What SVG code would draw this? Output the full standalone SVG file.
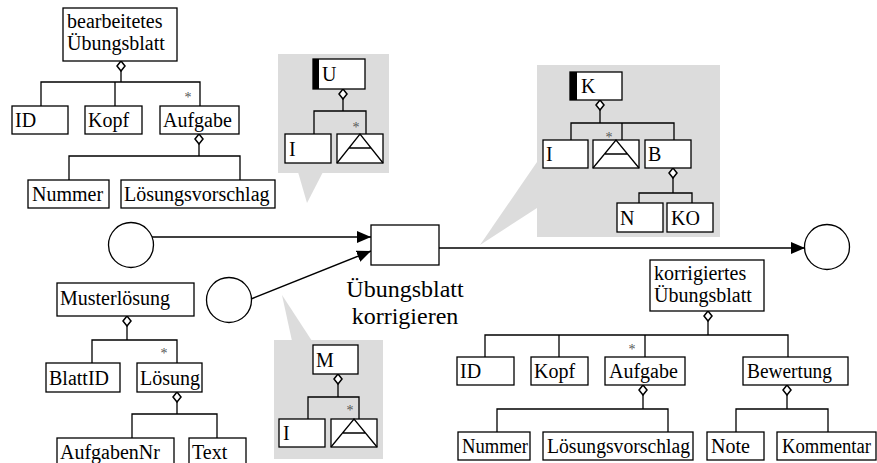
<svg xmlns="http://www.w3.org/2000/svg" width="877" height="463" viewBox="0 0 877 463">
  <defs>
    <style>
      .box { fill: #fff; stroke: #000; stroke-width: 1.3; }
      .bar { fill: #000; }
      text { font-family: "Liberation Serif", "Times New Roman", Times, "DejaVu Serif", serif; }
      .lbl { font-size: 20px; fill: #000; }
      .big { font-size: 24px; fill: #000; text-anchor: middle; }
      .mult { font-size: 14px; fill: #555; text-anchor: middle; }
      .tree { fill: none; stroke: #000; stroke-width: 1.3; }
      .dia { fill: #fff; stroke: #000; stroke-width: 1.5; }
      .flow { fill: none; stroke: #000; stroke-width: 1.5; }
      .place { fill: #fff; stroke: #000; stroke-width: 1.3; }
      .callout { fill: #dcdcdc; stroke: none; }
      .tri { fill: none; stroke: #000; stroke-width: 1.3; }
    </style>
    <marker id="arrow" markerUnits="userSpaceOnUse" markerWidth="15" markerHeight="12" refX="14" refY="6" orient="auto">
      <path d="M0,0 L14,6 L0,12 z" fill="#000"/>
    </marker>
    <path id="diamond" d="M0,0 l4,5 l-4,5 l-4,-5 z"/>
  </defs>

  <!-- speech-bubble backgrounds -->
  <g id="callouts">
    <rect class="callout" x="278" y="54" width="111" height="119"/>
    <polygon class="callout" points="298,172 323,172 307,203"/>
    <rect class="callout" x="537" y="65" width="183" height="172"/>
    <polygon class="callout" points="480,245 537,162 537,208"/>
    <rect class="callout" x="274" y="340" width="109" height="119"/>
    <polygon class="callout" points="282,295 292,341 312,341"/>
  </g>

  <!-- all connecting lines -->
  <g id="connectors">
    <!-- bearbeitetes Übungsblatt tree -->
    <path class="tree" d="M121,71 V82 M41,106 V82 H200 V106 M115,82 V106"/>
    <path class="tree" d="M199,144 V156 M69,180 V156 H240 V180"/>
    <!-- U tree -->
    <path class="tree" d="M343,99 V111 M314,134 V111 H366 V134"/>
    <!-- K tree -->
    <path class="tree" d="M600,110 V123 M571,140 V123 H674 V140 M622,123 V140"/>
    <path class="tree" d="M673,178 V193 M639,203 V193 H692 V203"/>
    <!-- Musterlösung tree -->
    <path class="tree" d="M127,326 V340 M92,363 V340 H177 V363"/>
    <path class="tree" d="M177,402 V414 M132,438 V414 H217 V438"/>
    <!-- M tree -->
    <path class="tree" d="M338,384 V397 M308,419 V397 H359 V419"/>
    <!-- korrigiertes Übungsblatt tree -->
    <path class="tree" d="M708,321 V335 M485,357 V335 H788 V357 M559,335 V357 M645,335 V357"/>
    <path class="tree" d="M643,395 V409 M497,432 V409 H668 V432"/>
    <path class="tree" d="M787,395 V409 M736,432 V409 H828 V432"/>
    <!-- aggregation diamonds -->
    <use href="#diamond" class="dia" x="121" y="61"/>
    <use href="#diamond" class="dia" x="199" y="134"/>
    <use href="#diamond" class="dia" x="343" y="89"/>
    <use href="#diamond" class="dia" x="600" y="100"/>
    <use href="#diamond" class="dia" x="673" y="168"/>
    <use href="#diamond" class="dia" x="127" y="316"/>
    <use href="#diamond" class="dia" x="177" y="392"/>
    <use href="#diamond" class="dia" x="338" y="374"/>
    <use href="#diamond" class="dia" x="708" y="311"/>
    <use href="#diamond" class="dia" x="643" y="385"/>
    <use href="#diamond" class="dia" x="787" y="385"/>
    <!-- multiplicities -->
    <text class="mult" x="188" y="102">*</text>
    <text class="mult" x="356" y="132">*</text>
    <text class="mult" x="609" y="142">*</text>
    <text class="mult" x="164" y="358">*</text>
    <text class="mult" x="350" y="415">*</text>
    <text class="mult" x="632" y="354">*</text>
    <!-- process flow -->
    <line class="flow" x1="152" y1="237" x2="371" y2="237" marker-end="url(#arrow)"/>
    <line class="flow" x1="251" y1="299" x2="371" y2="251" marker-end="url(#arrow)"/>
    <line class="flow" x1="439" y1="248" x2="805" y2="248" marker-end="url(#arrow)"/>
  </g>

  <!-- process -->
  <g id="process">
    <rect class="box" x="371" y="225" width="68" height="40"/>
    <text class="big" x="405" y="297">Übungsblatt</text>
    <text class="big" x="405" y="324">korrigieren</text>
  </g>
  <g id="place-in1"><circle class="place" cx="131" cy="245" r="22.5"/></g>
  <g id="place-in2"><circle class="place" cx="229" cy="300" r="22.5"/></g>
  <g id="place-out"><circle class="place" cx="827" cy="247" r="22.5"/></g>

  <!-- bearbeitetes Übungsblatt -->
  <g id="bearbeitetes-uebungsblatt">
    <rect class="box" x="63" y="8" width="114" height="53"/>
    <text class="lbl" x="67" y="28">bearbeitetes</text>
    <text class="lbl" x="67" y="50">Übungsblatt</text>
  </g>
  <g id="b-id"><rect class="box" x="12" y="106" width="56" height="28"/><text class="lbl" x="15" y="127">ID</text></g>
  <g id="b-kopf"><rect class="box" x="85" y="106" width="57" height="28"/><text class="lbl" x="88" y="127">Kopf</text></g>
  <g id="b-aufgabe"><rect class="box" x="160" y="106" width="79" height="28"/><text class="lbl" x="163" y="127">Aufgabe</text></g>
  <g id="b-nummer"><rect class="box" x="28" y="180" width="81" height="28"/><text class="lbl" x="32" y="201">Nummer</text></g>
  <g id="b-loesungsvorschlag"><rect class="box" x="121" y="180" width="154" height="28"/><text class="lbl" x="124" y="201">Lösungsvorschlag</text></g>

  <!-- U -->
  <g id="u">
    <rect class="box" x="313" y="59" width="52" height="30"/>
    <rect class="bar" x="313" y="59" width="6" height="30"/>
    <text class="lbl" x="322" y="81">U</text>
  </g>
  <g id="u-i"><rect class="box" x="285" y="134" width="46" height="29"/><text class="lbl" x="289" y="156">I</text></g>
  <g id="u-list">
    <rect class="box" x="337" y="134" width="46" height="29"/>
    <path class="tri" d="M337,163 L360,134 L383,163 M349,148 H371"/>
  </g>

  <!-- K -->
  <g id="k">
    <rect class="box" x="570" y="72" width="52" height="28"/>
    <rect class="bar" x="570" y="72" width="7" height="28"/>
    <text class="lbl" x="581" y="93">K</text>
  </g>
  <g id="k-i"><rect class="box" x="543" y="140" width="45" height="28"/><text class="lbl" x="546" y="161">I</text></g>
  <g id="k-list">
    <rect class="box" x="593" y="140" width="46" height="28"/>
    <path class="tri" d="M593,168 L616,140 L639,168 M605,154 H627"/>
  </g>
  <g id="k-b"><rect class="box" x="645" y="140" width="46" height="28"/><text class="lbl" x="648" y="161">B</text></g>
  <g id="k-n"><rect class="box" x="617" y="203" width="46" height="29"/><text class="lbl" x="620" y="225">N</text></g>
  <g id="k-ko"><rect class="box" x="667" y="203" width="46" height="29"/><text class="lbl" x="671" y="225">KO</text></g>

  <!-- Musterlösung -->
  <g id="musterloesung"><rect class="box" x="57" y="283" width="137" height="33"/><text class="lbl" x="60" y="305">Musterlösung</text></g>
  <g id="m-blattid"><rect class="box" x="46" y="363" width="74" height="29"/><text class="lbl" x="49" y="385">BlattID</text></g>
  <g id="m-loesung"><rect class="box" x="137" y="363" width="65" height="29"/><text class="lbl" x="140" y="385">Lösung</text></g>
  <g id="m-aufgabennr"><rect class="box" x="57" y="438" width="117" height="28"/><text class="lbl" x="60" y="459">AufgabenNr</text></g>
  <g id="m-text"><rect class="box" x="189" y="438" width="57" height="28"/><text class="lbl" x="192" y="459">Text</text></g>

  <!-- M -->
  <g id="m">
    <rect class="box" x="313" y="345" width="45" height="29"/>
    <text class="lbl" x="316" y="367">M</text>
  </g>
  <g id="m-i"><rect class="box" x="279" y="419" width="46" height="28"/><text class="lbl" x="283" y="440">I</text></g>
  <g id="m-list">
    <rect class="box" x="331" y="419" width="46" height="28"/>
    <path class="tri" d="M331,447 L354,419 L377,447 M343,433 H365"/>
  </g>

  <!-- korrigiertes Übungsblatt -->
  <g id="korrigiertes-uebungsblatt">
    <rect class="box" x="650" y="260" width="114" height="51"/>
    <text class="lbl" x="654" y="280">korrigiertes</text>
    <text class="lbl" x="654" y="302">Übungsblatt</text>
  </g>
  <g id="k-id2"><rect class="box" x="457" y="357" width="57" height="28"/><text class="lbl" x="460" y="378">ID</text></g>
  <g id="k-kopf"><rect class="box" x="531" y="357" width="57" height="28"/><text class="lbl" x="534" y="378">Kopf</text></g>
  <g id="k-aufgabe"><rect class="box" x="605" y="357" width="80" height="28"/><text class="lbl" x="609" y="378">Aufgabe</text></g>
  <g id="k-bewertung"><rect class="box" x="743" y="357" width="105" height="28"/><text class="lbl" x="747" y="378" textLength="85" lengthAdjust="spacingAndGlyphs">Bewertung</text></g>
  <g id="k-nummer"><rect class="box" x="458" y="432" width="72" height="28"/><text class="lbl" x="462" y="453" textLength="66" lengthAdjust="spacingAndGlyphs">Nummer</text></g>
  <g id="k-loesungsvorschlag"><rect class="box" x="543" y="432" width="150" height="28"/><text class="lbl" x="547" y="453" textLength="143" lengthAdjust="spacingAndGlyphs">Lösungsvorschlag</text></g>
  <g id="k-note"><rect class="box" x="707" y="432" width="57" height="28"/><text class="lbl" x="711" y="453">Note</text></g>
  <g id="k-kommentar"><rect class="box" x="777" y="432" width="99" height="28"/><text class="lbl" x="782" y="453" textLength="89" lengthAdjust="spacingAndGlyphs">Kommentar</text></g>
</svg>
